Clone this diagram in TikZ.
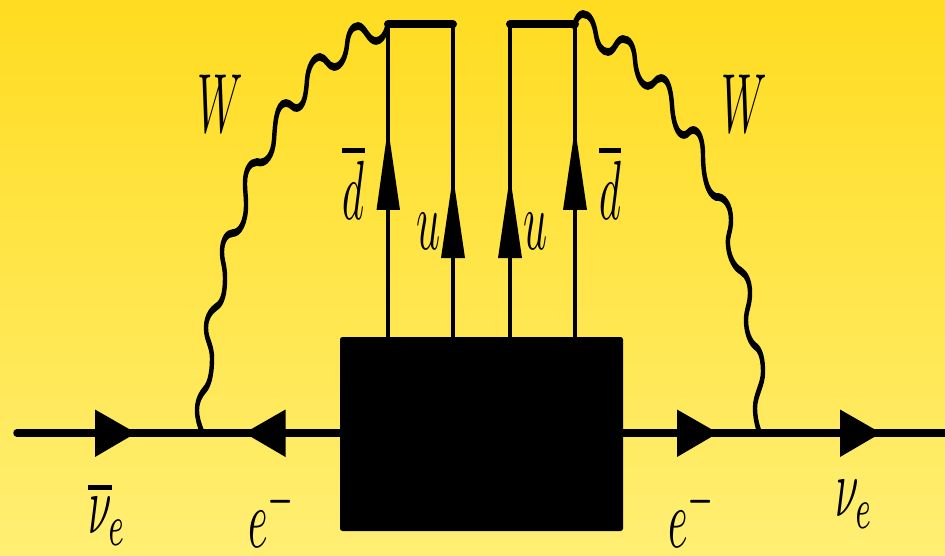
\documentclass[tikz,border=0pt]{standalone}
\usepackage{graphicx}
\tikzset{
  line/.style={line width=#1,draw=black,line cap=round,line join=round},
  fermion/.style={line={7.5pt}},
  quark/.style={line={4.5pt},line cap=butt},
  topbar/.style={line={8pt}},
  wave/.style={line={4.4pt}},
  tri/.style={fill=black},
  lab/.style={inner sep=0pt,outer sep=0pt},
  barmark/.style={fill=black}
}
\newcommand{\tall}[1]{\scalebox{4.2}[8.4]{$#1$}}
\begin{document}
\begin{tikzpicture}[x=1pt,y=-1pt]
\useasboundingbox (0,0) rectangle (945,556);
\shade[shading=axis,top color={rgb,255:red,255;green,220;blue,32},bottom color={rgb,255:red,255;green,239;blue,116}] (0,0) rectangle (945,556);
% box
\node[name=blob,fill=black,rounded corners=2.5pt,minimum width=283pt,minimum height=194pt,inner sep=0pt,outer sep=0pt,anchor=north west] at (340,337) {};
% fermion line
\coordinate (inL) at (17,433);
\coordinate (outR) at (945,433);
\coordinate (blobL) at (blob.west |- inL);
\coordinate (blobR) at (blob.east |- inL);
\draw[fermion] (inL) -- (blobL);
\draw[fermion,line cap=butt] (blobR) -- (outR);
% quark lines
\foreach \n/\x in {a/388,b/453,c/510,d/575}{
  \coordinate (\n0) at (\x,337);
  \coordinate (\n1) at (\x,24.5);
}
\draw[quark] (a0) -- (a1);
\draw[quark] (b0) -- (b1);
\draw[quark] (c0) -- (c1);
\draw[quark] (d0) -- (d1);
\draw[topbar] (a1) -- (b1);
\draw[topbar] (c1) -- (d1);
% arrowheads
\fill[tri] (95,409.5) -- (136,433) -- (95,457) -- cycle;
\fill[tri] (285.5,409.5) -- (244.5,433) -- (285.5,457) -- cycle;
\fill[tri] (677,409.5) -- (718,433) -- (677,457) -- cycle;
\fill[tri] (840,409.5) -- (881,433) -- (840,457) -- cycle;
\fill[tri] (376.5,210) -- (388,128) -- (400,210) -- cycle;
\fill[tri] (441,258) -- (453,176) -- (465,258) -- cycle;
\fill[tri] (498,258) -- (510,176) -- (522,258) -- cycle;
\fill[tri] (563,210) -- (575,128) -- (587,210) -- cycle;
% W waves: drawn in a vertically stretched canvas, so the pen is thicker on near-horizontal runs
\begin{scope}[transform canvas={yscale=1.75},y=-0.5714pt]
\draw[wave] (202,432)
 .. controls (199,424) and (197,418) .. (197,410)
 .. controls (197,398) and (203,392) .. (206,388)
 .. controls (210,382) and (212,372) .. (212,358)
 .. controls (212,345) and (206,340) .. (206,328)
 .. controls (206,316) and (212,310) .. (216,307)
 .. controls (223,303) and (225,292) .. (225,278)
 .. controls (225,265) and (222,262) .. (222,252)
 .. controls (222,240) and (227,233) .. (233,233)
 .. controls (240,233) and (246,222) .. (246,205)
 .. controls (246,195) and (245,192) .. (245,183)
 .. controls (245,170) and (250,162) .. (257,162)
 .. controls (266,165) and (273,155) .. (274,140)
 .. controls (275,125) and (276,103) .. (286,103)
 .. controls (291,103) and (293,109) .. (297,108)
 .. controls (304,107) and (306,95) .. (307,80)
 .. controls (308,68) and (313,57) .. (320,57)
 .. controls (326,57) and (328,67) .. (334,67)
 .. controls (342,67) and (346,55) .. (347,45)
 .. controls (348,33) and (352,26) .. (358,26)
 .. controls (365,26) and (368,41) .. (376,41)
 .. controls (381,41) and (385,35) .. (387,28);
\draw[wave] (574,26)
 .. controls (576,19) and (579,14) .. (583,14)
 .. controls (590,14) and (594,22) .. (596,35)
 .. controls (598,46) and (602,52) .. (608,52)
 .. controls (615,52) and (616,39) .. (623,39)
 .. controls (630,39) and (634,46) .. (635,60)
 .. controls (636,74) and (641,86) .. (648,86)
 .. controls (654,86) and (655,78) .. (661,78)
 .. controls (668,78) and (671,90) .. (672,105)
 .. controls (673,122) and (677,135) .. (684,135)
 .. controls (688,135) and (689,130) .. (693,130)
 .. controls (700,130) and (703,142) .. (703,155)
 .. controls (703,175) and (707,194) .. (716,197)
 .. controls (724,196) and (731,205) .. (731,220)
 .. controls (731,232) and (727,235) .. (728,245)
 .. controls (729,258) and (735,268) .. (741,271)
 .. controls (747,275) and (750,283) .. (750,293)
 .. controls (750,305) and (746,310) .. (746,320)
 .. controls (746,332) and (750,342) .. (755,346)
 .. controls (761,350) and (763,360) .. (763,372)
 .. controls (763,385) and (755,395) .. (755,408)
 .. controls (755,417) and (757,425) .. (759,431);
\end{scope}
% labels
\node[lab] (wl) at (220,104) {\tall{W}};
\node[lab] (wr) at (744,104) {\tall{W}};
\node[lab,anchor=base] (dl) at (353,220) {\tall{d}};
\node[lab,anchor=base] (dr) at (610,220) {\tall{d}};
\node[lab,anchor=base] (ul) at (429,250) {\tall{u}};
\node[lab,anchor=base] (ur) at (536,250) {\tall{u}};
\fill[barmark] (342,148) rectangle (365,153);
\fill[barmark] (599,148) rectangle (621,153);
\node[lab,anchor=base west] (nl) at (88,533) {\tall{\nu_e}};
\fill[barmark] (88,485) rectangle (112,490);
\node[lab,anchor=base west] (nr) at (835,516) {\tall{\nu_e}};
\node[lab,anchor=base west] (el) at (248,547) {\tall{e^-}};
\node[lab,anchor=base west] (er) at (668,547) {\tall{e^-}};
\end{tikzpicture}
\end{document}
